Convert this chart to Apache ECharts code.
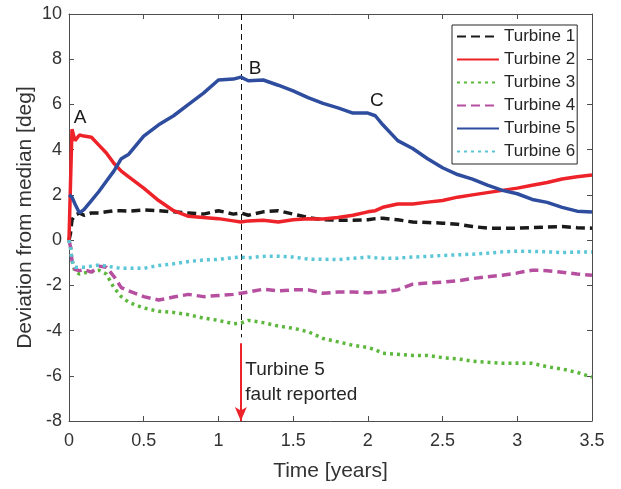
<!DOCTYPE html>
<html>
<head>
<meta charset="utf-8">
<script src="https://cdn.jsdelivr.net/npm/echarts@6/dist/echarts.min.js"></script>
<style>
  html, body { margin: 0; padding: 0; background: #fff; }
  #vis { width: 621px; height: 489px; }
</style>
</head>
<body>
<div id="vis"></div>
<script>
// time axis shared by all turbines [years]
const t = [0, 0.01, 0.02, 0.04, 0.07, 0.1, 0.15, 0.2, 0.25, 0.3,
  0.35, 0.4, 0.5, 0.6, 0.7, 0.8, 0.9, 1.0, 1.1, 1.15,
  1.2, 1.3, 1.4, 1.5, 1.6, 1.7, 1.8, 1.9, 2.0, 2.05,
  2.1, 2.2, 2.3, 2.4, 2.5, 2.6, 2.7, 2.8, 2.9, 3.0,
  3.1, 3.2, 3.3, 3.4, 3.5];

// deviation from median [deg]
const turbine1 = [0, 0.3, 0.9, 1.1, 1.2, 1.1, 1.2, 1.2, 1.25, 1.3,
  1.3, 1.28, 1.33, 1.3, 1.25, 1.2, 1.15, 1.3, 1.15, 1.2,
  1.1, 1.25, 1.3, 1.15, 1.0, 0.9, 0.88, 0.88, 0.9, 0.95,
  0.97, 0.9, 0.8, 0.78, 0.75, 0.7, 0.6, 0.53, 0.53, 0.53,
  0.55, 0.58, 0.6, 0.55, 0.53];
const turbine2 = [0, 2.5, 4.9, 4.4, 4.65, 4.6, 4.55, 4.2, 3.85, 3.4,
  3.05, 2.8, 2.3, 1.75, 1.3, 1.05, 1.0, 0.95, 0.85, 0.8,
  0.85, 0.88, 0.8, 0.9, 0.95, 0.93, 1.0, 1.1, 1.25, 1.3,
  1.45, 1.6, 1.6, 1.68, 1.75, 1.9, 2.0, 2.1, 2.2, 2.3,
  2.43, 2.55, 2.7, 2.8, 2.88];
const turbine3 = [0, -0.3, -0.9, -1.4, -1.5, -1.45, -1.4, -1.33, -1.5, -2.1,
  -2.5, -2.75, -3.0, -3.15, -3.2, -3.3, -3.45, -3.55, -3.7, -3.67,
  -3.55, -3.65, -3.8, -3.9, -4.05, -4.35, -4.5, -4.65, -4.75, -4.85,
  -5.0, -5.05, -5.1, -5.1, -5.2, -5.25, -5.35, -5.4, -5.45, -5.44,
  -5.45, -5.6, -5.7, -5.85, -6.06];
const turbine4 = [0, -0.3, -0.9, -1.3, -1.35, -1.3, -1.42, -1.15, -1.2, -1.6,
  -2.1, -2.25, -2.5, -2.65, -2.52, -2.4, -2.5, -2.45, -2.4, -2.35,
  -2.3, -2.17, -2.25, -2.2, -2.2, -2.35, -2.3, -2.3, -2.33, -2.3,
  -2.3, -2.2, -1.95, -1.9, -1.86, -1.8, -1.7, -1.62, -1.55, -1.45,
  -1.33, -1.35, -1.42, -1.5, -1.55];
const turbine5 = [2.0, 2.05, 1.9, 1.6, 1.2, 1.35, 1.75, 2.15, 2.6, 3.05,
  3.6, 3.8, 4.6, 5.1, 5.5, 6.0, 6.5, 7.08, 7.12, 7.21,
  7.05, 7.08, 6.85, 6.6, 6.3, 6.05, 5.85, 5.62, 5.62, 5.5,
  5.1, 4.4, 4.05, 3.6, 3.2, 2.9, 2.7, 2.43, 2.2, 2.05,
  1.8, 1.67, 1.45, 1.28, 1.24];
const turbine6 = [0, -0.3, -0.9, -1.2, -1.2, -1.2, -1.15, -1.1, -1.15, -1.2,
  -1.25, -1.24, -1.25, -1.12, -1.05, -0.95, -0.88, -0.85, -0.78, -0.75,
  -0.78, -0.72, -0.71, -0.75, -0.84, -0.85, -0.86, -0.8, -0.75, -0.78,
  -0.8, -0.8, -0.75, -0.72, -0.68, -0.65, -0.62, -0.58, -0.52, -0.49,
  -0.5, -0.52, -0.55, -0.53, -0.53];

const names = ["Turbine 1", "Turbine 2", "Turbine 3", "Turbine 4", "Turbine 5", "Turbine 6"];
const values = [turbine1, turbine2, turbine3, turbine4, turbine5, turbine6];
const colors = ["#1a1a1a", "#ee2229", "#5cb83c", "#b64f9f", "#2f4d9f", "#5bc6d6"];
const dashes = [[9, 5], "solid", [3, 4], [9, 5], "solid", [3, 4]];

// fault event and point labels
const faultTime = 1.15;
const pointLabels = [
  { name: "A", coord: [0.075, 5.4] },
  { name: "B", coord: [1.245, 7.6] },
  { name: "C", coord: [2.06, 6.15] }
];

const FONT = "Liberation Sans, Arial, Helvetica, sans-serif";
const AX = "#4d4d4d";
const TXT = "#333333";

const chart = echarts.init(document.getElementById("vis"), null, { renderer: "canvas" });

const series = names.map((n, i) => ({
  name: n,
  type: "line",
  showSymbol: false,
  symbol: "none",
  data: t.map((x, k) => [x, values[i][k]]),
  lineStyle: { color: colors[i], width: 3.5, type: dashes[i], cap: "butt" },
  itemStyle: { color: colors[i] },
  z: 3 + i
}));

// annotations (fault line, arrow, letters)
series.push({
  name: "annot",
  type: "line",
  data: [],
  silent: true,
  markLine: {
    silent: true,
    animation: false,
    label: { show: false },
    data: [
      [
        { coord: [faultTime, 10], symbol: "none", lineStyle: { color: "#111", width: 1, type: [6, 4] } },
        { coord: [faultTime, -4.3], symbol: "none" }
      ],
      [
        { coord: [faultTime, -4.56], symbol: "none", lineStyle: { color: "#ee2229", width: 2, type: "solid" } },
        { coord: [faultTime, -8], symbol: "arrow", symbolSize: [9, 14] }
      ]
    ]
  },
  markPoint: {
    silent: true,
    animation: false,
    symbolSize: 0,
    label: {
      show: true,
      position: "inside",
      color: "#1a1a1a",
      fontFamily: FONT,
      fontSize: 19,
      formatter: p => p.name
    },
    data: pointLabels.concat([{
      name: "Turbine 5\nfault reported",
      coord: [1.18, -6.3],
      label: { align: "left", fontSize: 19, lineHeight: 25, color: "#262626" }
    }])
  }
});

const option = {
  animation: false,
  backgroundColor: "#fff",
  textStyle: { fontFamily: FONT },
  grid: { left: 69, right: 29, top: 14, bottom: 68, containLabel: false },
  legend: {
    data: names,
    orient: "vertical",
    left: 452,
    top: 25,
    itemWidth: 42,
    itemHeight: 14,
    itemGap: 6,
    itemTextGap: 4,
    padding: [3, 2, 4, 4],
    borderColor: "#262626",
    borderWidth: 1,
    borderRadius: 0,
    backgroundColor: "#fff",
    itemStyle: { opacity: 0 },
    textStyle: { color: "#262626", fontSize: 17, fontFamily: FONT },
    selectedMode: false
  },
  xAxis: [
    {
      type: "value",
      min: 0,
      max: 3.5,
      interval: 0.5,
      name: "Time [years]",
      nameLocation: "middle",
      nameGap: 40,
      nameMoveOverlap: false,
      nameTextStyle: { color: TXT, fontSize: 21, fontFamily: FONT },
      axisLine: { show: true, onZero: false, lineStyle: { color: AX, width: 1 } },
      axisTick: { show: true, inside: true, length: 5, lineStyle: { color: AX } },
      axisLabel: { color: TXT, fontSize: 18, margin: 11, fontFamily: FONT },
      splitLine: { show: false }
    },
    {
      type: "value",
      position: "top",
      min: 0,
      max: 3.5,
      interval: 0.5,
      axisLine: { show: true, onZero: false, lineStyle: { color: AX, width: 1 } },
      axisTick: { show: true, inside: true, length: 5, lineStyle: { color: AX } },
      axisLabel: { show: false },
      splitLine: { show: false }
    }
  ],
  yAxis: [
    {
      type: "value",
      min: -8,
      max: 10,
      interval: 2,
      name: "Deviation from median [deg]",
      nameLocation: "middle",
      nameGap: 33,
      nameMoveOverlap: false,
      nameTextStyle: { color: TXT, fontSize: 21, fontFamily: FONT },
      axisLine: { show: true, onZero: false, lineStyle: { color: AX, width: 1 } },
      axisTick: { show: true, inside: true, length: 5, lineStyle: { color: AX } },
      axisLabel: { color: TXT, fontSize: 18, margin: 7, fontFamily: FONT },
      splitLine: { show: false }
    },
    {
      type: "value",
      position: "right",
      min: -8,
      max: 10,
      interval: 2,
      axisLine: { show: true, onZero: false, lineStyle: { color: AX, width: 1 } },
      axisTick: { show: true, inside: true, length: 5, lineStyle: { color: AX } },
      axisLabel: { show: false },
      splitLine: { show: false }
    }
  ],
  series: series
};

chart.setOption(option);
</script>
</body>
</html>
